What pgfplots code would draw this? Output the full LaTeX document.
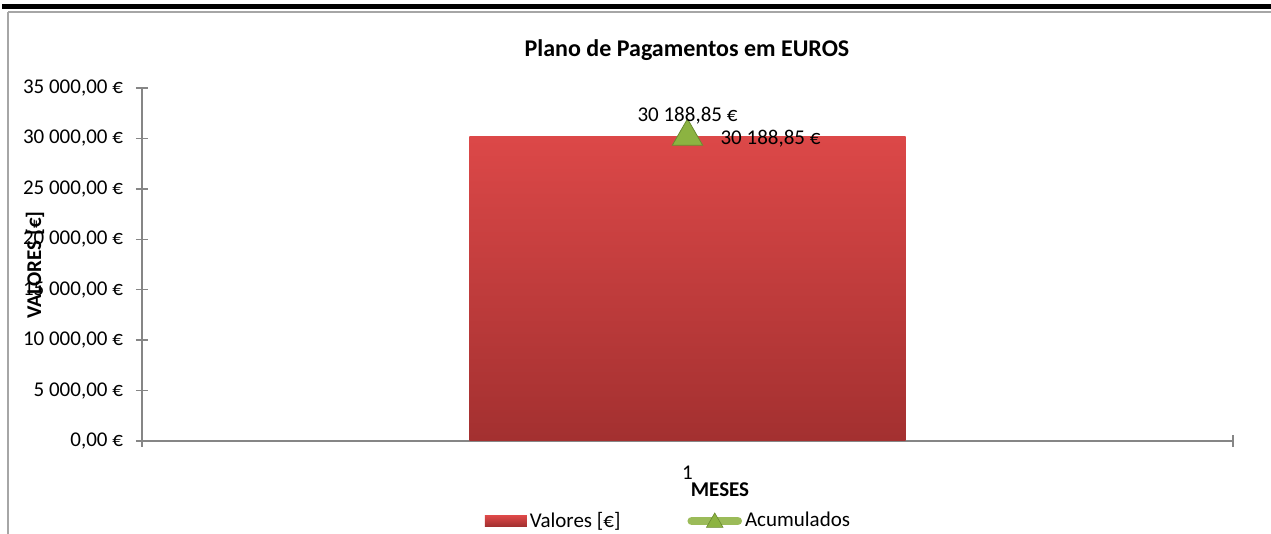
\documentclass[border=0pt]{standalone}
\usepackage{pgfplots}
\pgfplotsset{compat=1.18}
\usepackage{fontspec}
\setmainfont{Carlito}
\definecolor{barTop}{HTML}{DC4848}
\definecolor{barMid}{HTML}{CF4141}
\definecolor{barBot}{HTML}{A33030}
\definecolor{axgray}{HTML}{868686}
\definecolor{acgreen}{HTML}{9BBB59}
\definecolor{tri}{HTML}{8CB341}
\definecolor{tridark}{HTML}{6A8A30}
\begin{document}
\begin{tikzpicture}
\path[use as bounding box] (0pt,0pt) rectangle (635.5pt,267pt);
\fill[black] (1pt,262.5pt) rectangle (635.5pt,265pt);
\draw[black!35, line width=0.6pt] (4pt,261pt) -- (635.5pt,261pt);
\draw[black!35, line width=0.8pt] (4pt,261pt) -- (4pt,0pt);
\node[font=\bfseries\fontsize{12}{14}\selectfont] at (343.5pt,242pt) {Plano de Pagamentos em EUROS};
\begin{axis}[
  at={(71pt,46.5pt)}, anchor=south west,
  scale only axis, width=545.5pt, height=176.5pt,
  xmin=0.5, xmax=1.5, ymin=0, ymax=35000,
  scaled y ticks=false,
  axis lines*=left,
  axis line style={axgray, line width=0.7pt, -},
  tick style={axgray, line width=0.7pt},
  tick align=center, major tick length=6pt,
  ytick={0,5000,10000,15000,20000,25000,30000,35000},
  yticklabels={{0,00 €},{5 000,00 €},{10 000,00 €},{15 000,00 €},{20 000,00 €},{25 000,00 €},{30 000,00 €},{35 000,00 €}},
  yticklabel style={anchor=east, xshift=-3pt},
  xtick={0.5,1.5}, xticklabels={,},
  extra x ticks={1}, extra x tick labels={1},
  extra x tick style={major tick length=0pt, xticklabel style={anchor=north, yshift=-9pt}},
  ticklabel style={font=\fontsize{10.5}{12}\selectfont, text=black},
  clip=false,
  legend style={at={(0.483,-0.2266)}, anchor=center, draw=none, fill=none,
    legend columns=2, font=\fontsize{10.5}{12}\selectfont,
    /tikz/every even column/.append style={column sep=32pt},
    nodes={inner sep=1.5pt}},
  legend cell align=left,
]
\addplot[ybar, bar width=0.4, draw=none, top color=barTop, middle color=barMid, bottom color=barBot,
  legend image code/.code={\path[top color=barTop, bottom color=barBot] (0pt,-2.6pt) rectangle (21pt,2.6pt);}]
  coordinates {(1,30188.85)};
\addlegendentry{Valores [€]}
\addplot[acgreen, line width=2.5pt, mark=triangle*, mark size=8.8pt,
  mark options={fill=tri, draw=tridark, line width=0.4pt},
  legend image code/.code={\draw[acgreen, line width=4.3pt, line cap=round] (0pt,0pt) -- (23pt,0pt);
     \fill[tri, draw=tridark, line width=0.3pt] (11.5pt,-0.8pt) +(90:4.8pt) -- +(210:4.8pt) -- +(330:4.8pt) -- cycle;}]
  coordinates {(1,30188.85)};
\addlegendentry{Acumulados}
\addplot[forget plot, draw=none, mark=none, point meta=explicit symbolic,
  nodes near coords, every node near coord/.append style={anchor=center, yshift=10.25pt, text=black, font=\fontsize{10.5}{12}\selectfont}]
  coordinates {(1,30188.85) [30 188,85 €]};
\addplot[forget plot, draw=none, mark=none, point meta=explicit symbolic,
  nodes near coords, every node near coord/.append style={anchor=west, xshift=13pt, yshift=-1.25pt, text=black, font=\fontsize{10.5}{12}\selectfont}]
  coordinates {(1,30188.85) [30 188,85 €]};
\end{axis}
\node[font=\bfseries\fontsize{10.5}{12}\selectfont, rotate=90] at (17.5pt,134.5pt) {VALORES [€]};
\node[font=\bfseries\fontsize{10.5}{12}\selectfont] at (360pt,22pt) {MESES};
\end{tikzpicture}
\end{document}
